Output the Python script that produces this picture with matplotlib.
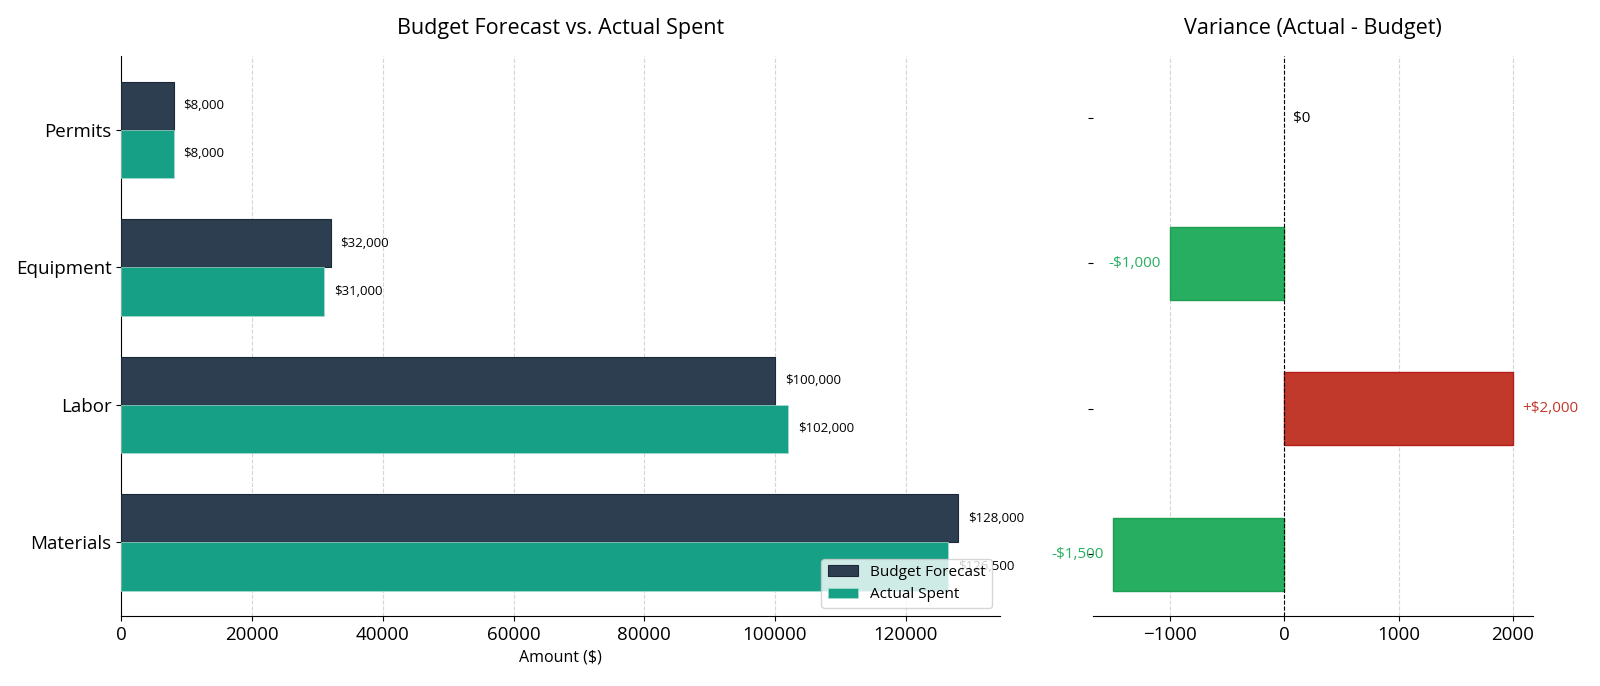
import numpy as np
import matplotlib
matplotlib.use('Agg')
import matplotlib.pyplot as plt
from matplotlib.ticker import MultipleLocator

plt.rcParams['font.family'] = ['Open Sans', 'DejaVu Sans']

# data
categorias = ['Materials', 'Labor', 'Equipment', 'Permits']
orcamento = [128000, 100000, 32000, 8000]
gasto = [126500, 102000, 31000, 8000]
variacao = [-1500, 2000, -1000, 0]
rotulos_var = ['-$1,500', '+$2,000', '-$1,000', '$0']

cor_orc = '#2c3e50'
cor_gasto = '#16a085'
cor_verde = '#27ae60'
cor_verm = '#c0392b'

y = np.arange(len(categorias))
h = 0.35

fig = plt.figure(figsize=(16, 6.86), dpi=100)
ax1 = fig.add_axes([0.0759, 0.102, 0.549, 0.816])
ax2 = fig.add_axes([0.683, 0.102, 0.275, 0.816])

# grafico da esquerda
b1 = ax1.barh(y + h/2, orcamento, h, color=cor_orc, edgecolor='#1b2838', linewidth=0.8, label='Budget Forecast', zorder=3)
b2 = ax1.barh(y - h/2, gasto, h, color=cor_gasto, edgecolor='#a8dccf', linewidth=0.5, label='Actual Spent', zorder=3)

for i in range(len(categorias)):
    ax1.text(orcamento[i] + 1500, y[i] + h/2, '${:,.0f}'.format(orcamento[i]), va='center', fontsize=9.5, zorder=4)
    ax1.text(gasto[i] + 1500, y[i] - h/2, '${:,.0f}'.format(gasto[i]), va='center', fontsize=9.5, zorder=2)

ax1.set_yticks(y)
ax1.set_yticklabels(categorias, fontsize=13.5)
ax1.tick_params(axis='x', labelsize=13.5)
ax1.set_xlabel('Amount ($)', fontsize=11.5)
ax1.set_title('Budget Forecast vs. Actual Spent', fontsize=15.5, pad=16)
ax1.grid(axis='x', linestyle='--', color='#cccccc', alpha=0.8, zorder=0)
ax1.spines['top'].set_visible(False)
ax1.spines['right'].set_visible(False)
ax1.legend(loc='lower right', fontsize=11, framealpha=0.8)

# grafico da direita
cores = [cor_verde if v <= 0 else cor_verm for v in variacao]
bordas = ['#1e9e50' if v < 0 else ('#b71c1c' if v > 0 else 'none') for v in variacao]
ax2.barh(y, variacao, 0.5, color=cores, edgecolor=bordas, linewidth=1, zorder=3)
ax2.axvline(0, color='black', linestyle='--', linewidth=0.8, zorder=4)

for i in range(len(categorias)):
    v = variacao[i]
    if v > 0:
        ax2.text(v + 80, y[i], rotulos_var[i], va='center', ha='left', fontsize=11, color=cor_verm)
    elif v < 0:
        ax2.text(v - 80, y[i], rotulos_var[i], va='center', ha='right', fontsize=11, color=cor_verde)
    else:
        ax2.text(v + 80, y[i], rotulos_var[i], va='center', ha='left', fontsize=11, color='black')

ax2.set_yticks(y)
ax2.set_yticklabels([''] * len(y))
ax2.xaxis.set_major_locator(MultipleLocator(1000))
ax2.tick_params(axis='x', labelsize=13.5)
ax2.set_title('Variance (Actual - Budget)', fontsize=15.5, pad=16)
ax2.grid(axis='x', linestyle='--', color='#cccccc', alpha=0.8, zorder=0)
ax2.spines['top'].set_visible(False)
ax2.spines['right'].set_visible(False)
ax2.spines['left'].set_visible(False)

plt.savefig('out.png', dpi=100)
